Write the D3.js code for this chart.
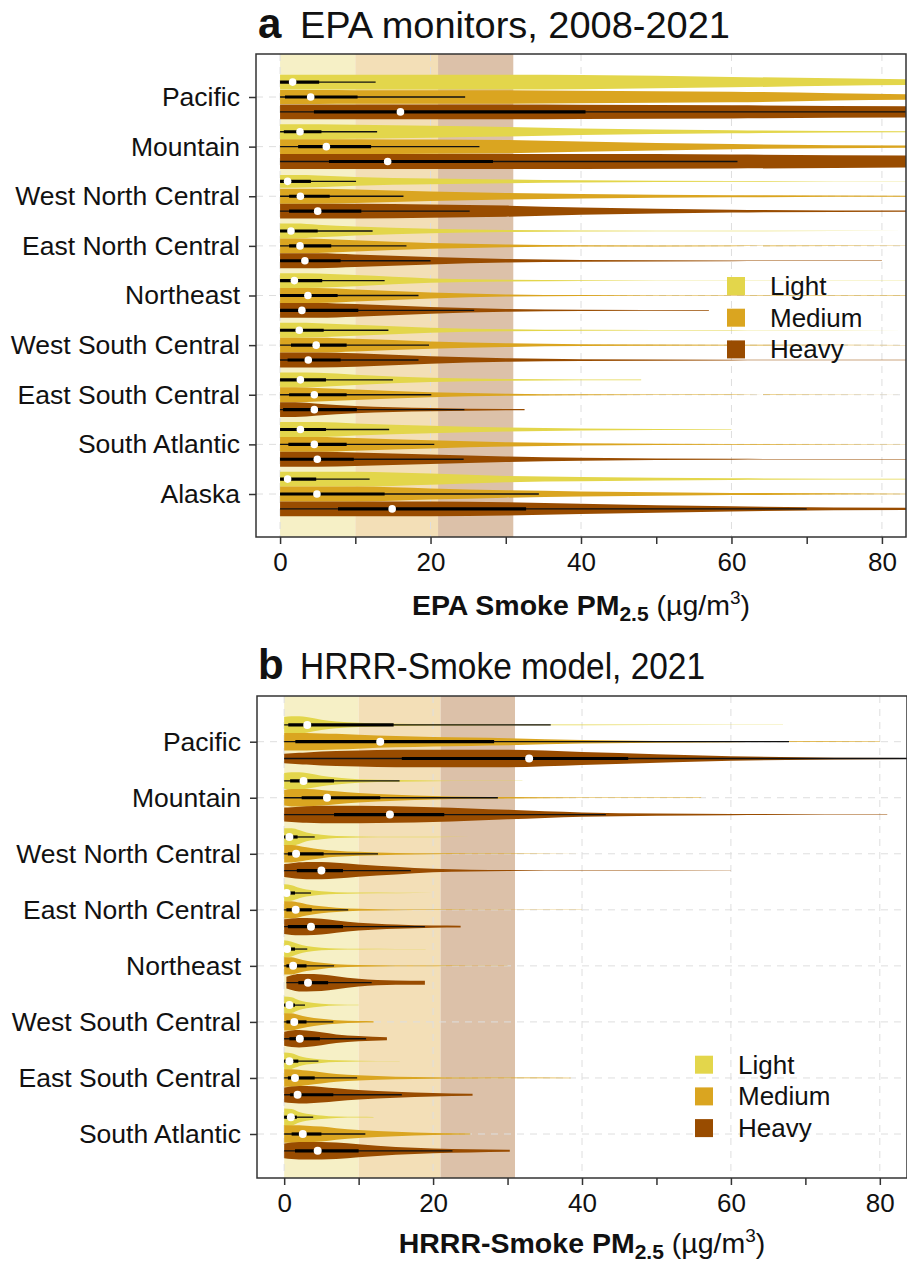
<!DOCTYPE html>
<html>
<head>
<meta charset="utf-8">
<script src="https://cdn.jsdelivr.net/npm/d3@7"></script>
<style>
  body { margin: 0; background: #fff; }
  svg { display: block; font-family: "Liberation Sans", Arial, Helvetica, sans-serif; }
</style>
</head>
<body>
<div id="chart"></div>
<script>
// ---- data ----
const regionsA = ["Pacific", "Mountain", "West North Central", "East North Central", "Northeast",
    "West South Central", "East South Central", "South Atlantic", "Alaska"];
const regionsB = regionsA.slice(0, 8);
const levels = ["Light", "Medium", "Heavy"];
const levelColors = ["#e3d64b", "#daa520", "#994c00"];

// smoke-day thresholds shown as background bands (µg/m3)
const bandEdges = [0, 10, 21, 31];
const bandColors = ["#f6f0c6", "#f3dfb7", "#dcc1a9"];

// panel a: violin half-width (relative) at these concentrations
const epaGrid = [0, 2, 5, 10, 20, 30, 40, 60, 85];
const epaShape = [
    [[1, 1, 1, 1, 1, 1, 0.95, 0.7, 0.4], [0.93, 0.93, 0.93, 0.92, 0.92, 0.9, 0.85, 0.72, 0.38], [1, 1, 1, 1, 1, 1, 0.97, 0.9, 0.75]],
    [[1, 1, 1, 0.95, 0.8, 0.65, 0.45, 0.2, 0.08], [1, 1, 1, 1, 0.95, 0.9, 0.7, 0.35, 0.14], [1, 1, 1, 1, 1, 1, 1, 0.95, 0.8]],
    [[0.85, 0.85, 0.8, 0.6, 0.4, 0.25, 0.15, 0.06, 0.02], [1, 1, 1, 0.9, 0.65, 0.45, 0.32, 0.15, 0.07], [1, 1, 1, 1, 0.9, 0.75, 0.5, 0.2, 0.07]],
    [[1, 1, 0.85, 0.6, 0.3, 0.15, 0.08, 0.03, 0.01], [1, 1, 0.95, 0.75, 0.4, 0.2, 0.1, 0.04, 0.02], [1, 1, 1, 0.85, 0.5, 0.25, 0.12, 0.05, 0.02]],
    [[1, 1, 0.95, 0.75, 0.3, 0.12, 0.06, 0.03, 0.01], [1, 1, 1, 0.8, 0.4, 0.15, 0.07, 0.03, 0.02], [1, 1, 1, 0.85, 0.45, 0.2, 0.08, 0.03, 0.02]],
    [[1, 1, 0.95, 0.75, 0.35, 0.15, 0.06, 0.02, 0.01], [1, 1, 1, 0.85, 0.5, 0.25, 0.12, 0.05, 0.02], [1, 1, 1, 0.9, 0.5, 0.25, 0.12, 0.05, 0.02]],
    [[1, 1, 0.95, 0.7, 0.3, 0.12, 0.05, 0.02, 0.01], [1, 1, 0.9, 0.7, 0.35, 0.15, 0.06, 0.02, 0.01], [1, 1, 0.8, 0.5, 0.22, 0.08, 0.04, 0.02, 0.01]],
    [[1, 1, 1, 0.8, 0.5, 0.28, 0.15, 0.04, 0.01], [1, 1, 1, 0.85, 0.55, 0.3, 0.15, 0.05, 0.02], [1, 1, 1, 0.9, 0.65, 0.38, 0.2, 0.06, 0.02]],
    [[1, 1, 1, 1, 0.75, 0.42, 0.3, 0.12, 0.04], [1, 1, 1, 1, 0.75, 0.5, 0.35, 0.15, 0.05], [1, 1, 1, 1, 1, 0.9, 0.7, 0.35, 0.15]]
];
// data range [min, max] per violin
const epaRange = [
    [[0, 100], [0, 100], [0, 100]],
    [[0, 100], [0, 100], [0, 100]],
    [[0, 100], [0, 100], [0, 100]],
    [[0, 100], [0, 100], [0, 80]],
    [[0, 100], [0, 100], [0, 57]],
    [[0, 100], [0, 100], [0, 100]],
    [[0, 48], [0, 100], [0, 32.5]],
    [[0, 60], [0, 100], [0, 100]],
    [[0, 100], [0, 100], [0, 100]]
];
// box stats: [whisker low, q1, median, q3, whisker high]
const epaBox = [
    [[0, 0, 1.67, 5.2, 12.7], [0, 0.65, 4.07, 10.3, 24.6], [0, 4.5, 16.0, 40.6, 100]],
    [[0, 0.5, 2.65, 5.5, 12.9], [0, 2.4, 6.15, 12.1, 26.5], [0, 6.5, 14.3, 28.3, 60.8]],
    [[0, 0, 1.0, 4.1, 10.1], [0, 1.2, 2.7, 6.6, 16.4], [0, 1.2, 5.0, 10.8, 25.2]],
    [[0, 0, 1.45, 5.0, 12.3], [0, 1.2, 2.65, 6.8, 16.8], [0, 0, 3.3, 8.05, 20.0]],
    [[0, 0, 1.9, 5.6, 13.9], [0, 0, 3.7, 7.65, 18.4], [0, 0, 2.9, 10.4, 25.8]],
    [[0, 0, 2.55, 5.8, 14.4], [0, 1.45, 4.8, 8.85, 19.8], [0, 1.0, 3.75, 8.05, 18.4]],
    [[0, 0, 2.7, 6.1, 15.0], [0, 1.2, 4.55, 8.85, 20.1], [0, 0.4, 4.55, 10.2, 24.5]],
    [[0, 0, 2.7, 6.1, 14.5], [0, 1.1, 4.55, 8.85, 20.5], [0, 0, 4.95, 9.8, 24.4]],
    [[0, 0, 1.0, 4.8, 11.9], [0, 0, 4.9, 13.9, 34.4], [0, 7.7, 14.9, 32.7, 70.0]]
];

// panel b
const hrrrGrid = [0, 1, 2, 3, 5, 7, 10, 15, 20, 25, 30, 40, 60, 85];
const hrrrShape = [
    [[0.9, 1, 1, 0.9, 0.6, 0.4, 0.25, 0.12, 0.07, 0.06, 0.05, 0.04, 0.02, 0],
     [1, 1, 1, 1, 0.95, 0.9, 0.8, 0.65, 0.55, 0.48, 0.4, 0.2, 0.05, 0.02],
     [0.55, 0.6, 0.65, 0.7, 0.8, 0.85, 0.92, 1, 1, 1, 1, 0.75, 0.27, 0.05]],
    [[0.9, 1, 1, 0.9, 0.6, 0.4, 0.2, 0.1, 0.05, 0.02, 0.01, 0, 0, 0],
     [0.9, 1, 1, 1, 0.9, 0.75, 0.55, 0.35, 0.2, 0.12, 0.08, 0.04, 0.01, 0],
     [0.8, 0.85, 0.9, 0.95, 1, 1, 1, 0.95, 0.85, 0.7, 0.55, 0.25, 0.07, 0.02]],
    [[1, 1, 0.8, 0.5, 0.25, 0.12, 0.06, 0.03, 0.02, 0.01, 0.01, 0.01, 0, 0],
     [1, 1, 0.9, 0.75, 0.5, 0.35, 0.22, 0.1, 0.05, 0.03, 0.02, 0.01, 0, 0],
     [0.75, 0.85, 0.95, 1, 1, 0.9, 0.7, 0.45, 0.2, 0.1, 0.06, 0.03, 0.02, 0]],
    [[1, 0.9, 0.6, 0.4, 0.2, 0.1, 0.05, 0.03, 0.01, 0, 0, 0, 0, 0],
     [1, 1, 0.85, 0.65, 0.4, 0.25, 0.12, 0.05, 0.03, 0.02, 0.02, 0.01, 0, 0],
     [0.85, 0.95, 1, 1, 0.9, 0.7, 0.45, 0.25, 0.12, 0.1, 0, 0, 0, 0]],
    [[1, 0.85, 0.55, 0.35, 0.15, 0.07, 0.04, 0.02, 0.01, 0, 0, 0, 0, 0],
     [1, 1, 0.8, 0.6, 0.35, 0.2, 0.1, 0.05, 0.03, 0.02, 0.01, 0, 0, 0],
     [0.6, 0.85, 1, 1, 0.95, 0.75, 0.45, 0.25, 0.22, 0.2, 0, 0, 0, 0]],
    [[1, 0.9, 0.55, 0.35, 0.15, 0.06, 0.03, 0.01, 0, 0, 0, 0, 0, 0],
     [1, 1, 0.8, 0.6, 0.35, 0.2, 0.1, 0.05, 0, 0, 0, 0, 0, 0],
     [0.8, 0.95, 1, 0.95, 0.75, 0.5, 0.3, 0.12, 0, 0, 0, 0, 0, 0]],
    [[1, 0.9, 0.6, 0.4, 0.2, 0.1, 0.05, 0.02, 0.01, 0, 0, 0, 0, 0],
     [1, 1, 0.95, 0.85, 0.65, 0.45, 0.3, 0.15, 0.08, 0.05, 0.04, 0.03, 0, 0],
     [0.85, 0.95, 1, 1, 0.9, 0.75, 0.55, 0.35, 0.2, 0.12, 0.1, 0, 0, 0]],
    [[1, 0.95, 0.6, 0.4, 0.2, 0.08, 0.04, 0.02, 0, 0, 0, 0, 0, 0],
     [1, 1, 1, 0.95, 0.85, 0.65, 0.45, 0.25, 0.12, 0.05, 0.03, 0, 0, 0],
     [0.85, 0.95, 1, 1, 1, 0.95, 0.75, 0.45, 0.28, 0.18, 0.12, 0.08, 0, 0]]
];
const hrrrRange = [
    [[0, 67], [0, 80], [0, 100]],
    [[0, 32], [0, 56], [0, 81]],
    [[0, 36], [0, 42], [0, 60]],
    [[0, 20], [0, 40], [0, 23.7]],
    [[0, 19], [0, 30], [0.3, 18.9]],
    [[0, 10], [0, 12], [0, 13.8]],
    [[0, 15.5], [0, 38.5], [0, 25.3]],
    [[0, 12], [0, 25], [0, 30.3]]
];
const hrrrBox = [
    [[0, 0.55, 3.1, 14.7, 35.8], [0, 1.5, 12.9, 28.2, 67.8], [0, 15.8, 32.9, 46.2, 100]],
    [[0, 0.8, 2.6, 6.7, 15.5], [0, 2.35, 5.75, 12.9, 28.7], [0, 6.7, 14.2, 21.5, 43.2]],
    [[0, 0, 0.7, 1.8, 4.1], [0, 0.5, 1.6, 5.3, 12.6], [0, 1.7, 5.0, 7.9, 17.0]],
    [[0, 0, 0.33, 1.45, 3.6], [0, 0.3, 1.55, 3.7, 8.6], [0, 0.5, 3.6, 7.9, 18.9]],
    [[0, 0, 0.4, 1.45, 3.1], [0, 0.3, 1.2, 3.0, 6.7], [0.3, 1.9, 3.2, 5.9, 11.75]],
    [[0, 0, 0.7, 1.45, 2.8], [0, 0.3, 1.35, 3.0, 6.6], [0, 0.7, 2.1, 4.8, 11.0]],
    [[0, 0, 0.7, 1.9, 4.6], [0, 0.5, 1.45, 4.1, 9.8], [0, 0.8, 1.8, 6.6, 15.8]],
    [[0, 0, 0.9, 1.7, 3.9], [0, 1.0, 2.5, 5.0, 10.9], [0, 1.45, 4.5, 10.0, 22.6]]
];

const xTicks = [0, 10, 20, 30, 40, 50, 60, 70, 80];
const xGrid = [0, 20, 40, 60, 80];

// ---- drawing ----
const svg = d3.select("#chart")
    .append("svg")
    .attr("width", 907)
    .attr("height", 1266);

function interpWidth(grid, ws, v) {
    if (v >= grid[grid.length - 1]) return ws[ws.length - 1];
    let i = d3.bisectRight(grid, v) - 1;
    if (i < 0) return ws[0];
    const t = (v - grid[i]) / (grid[i + 1] - grid[i]);
    return ws[i] + t * (ws[i + 1] - ws[i]);
}

function drawPanel(p) {
    const g = svg.append("g");
    const x = d3.scaleLinear().domain(p.xDomain).range([p.left, p.right]);
    const y = d3.scalePoint().domain(p.regions).range([p.yFirst, p.yLast]);
    const off = y.step() * 0.3;

    const clipId = "clip-" + p.letter;
    svg.append("clipPath").attr("id", clipId)
        .append("rect")
        .attr("x", p.left).attr("y", p.top)
        .attr("width", p.right - p.left).attr("height", p.bottom - p.top);

    const plot = g.append("g").attr("clip-path", `url(#${clipId})`);

    // threshold bands
    plot.selectAll(".band")
        .data(bandColors)
        .join("rect")
        .attr("x", (d, i) => x(bandEdges[i]))
        .attr("width", (d, i) => x(bandEdges[i + 1]) - x(bandEdges[i]))
        .attr("y", p.top)
        .attr("height", p.bottom - p.top)
        .attr("fill", d => d);

    // dashed grid
    plot.selectAll(".vgrid")
        .data(xGrid)
        .join("line")
        .attr("x1", d => x(d)).attr("x2", d => x(d))
        .attr("y1", p.top).attr("y2", p.bottom)
        .attr("stroke", "#dedede")
        .attr("stroke-width", 1)
        .attr("stroke-dasharray", "7,6");

    plot.selectAll(".hgrid")
        .data(p.regions)
        .join("line")
        .attr("x1", p.left).attr("x2", p.right)
        .attr("y1", d => y(d)).attr("y2", d => y(d))
        .attr("stroke", "#dedede")
        .attr("stroke-width", 1)
        .attr("stroke-dasharray", "7,6");

    // violins
    const items = [];
    p.regions.forEach((r, ri) => {
        levels.forEach((lv, li) => {
            items.push({
                region: r, li: li,
                cy: y(r) + (li - 1) * off,
                shape: p.shape[ri][li],
                range: p.range[ri][li],
                box: p.box[ri][li]
            });
        });
    });

    const area = d3.area()
        .curve(d3.curveMonotoneX)
        .x(d => x(d[0]))
        .y0(d => d[2] - d[1] * p.halfW)
        .y1(d => d[2] + d[1] * p.halfW);

    plot.selectAll(".violin")
        .data(items)
        .join("path")
        .attr("fill", d => levelColors[d.li])
        .attr("d", d => {
            const [lo, hi] = d.range;
            const pts = [[lo, interpWidth(p.grid, d.shape, lo), d.cy]];
            p.grid.forEach((gx, k) => {
                if (gx > lo && gx < hi) pts.push([gx, d.shape[k], d.cy]);
            });
            pts.push([hi, interpWidth(p.grid, d.shape, hi), d.cy]);
            return area(pts);
        });

    // box plots
    plot.selectAll(".whisker")
        .data(items)
        .join("line")
        .attr("x1", d => x(d.box[0])).attr("x2", d => x(d.box[4]))
        .attr("y1", d => d.cy).attr("y2", d => d.cy)
        .attr("stroke", "#111")
        .attr("stroke-width", 1.3);

    plot.selectAll(".iqr")
        .data(items)
        .join("line")
        .attr("x1", d => x(d.box[1])).attr("x2", d => x(d.box[3]))
        .attr("y1", d => d.cy).attr("y2", d => d.cy)
        .attr("stroke", "#000")
        .attr("stroke-width", 3.2);

    plot.selectAll(".median")
        .data(items)
        .join("circle")
        .attr("cx", d => x(d.box[2]))
        .attr("cy", d => d.cy)
        .attr("r", p.dotR)
        .attr("fill", "#fff");

    // panel border
    g.append("rect")
        .attr("x", p.left).attr("y", p.top)
        .attr("width", p.right - p.left).attr("height", p.bottom - p.top)
        .attr("fill", "none")
        .attr("stroke", "#333")
        .attr("stroke-width", 1.5);

    // axes
    const axisB = d3.axisBottom(x)
        .tickValues(xTicks)
        .tickFormat(d => d % 20 === 0 ? d : "")
        .tickSize(7)
        .tickPadding(9);

    g.append("g")
        .attr("transform", `translate(0, ${p.bottom})`)
        .call(axisB)
        .call(a => a.select(".domain").remove())
        .call(a => a.selectAll("line").attr("stroke", "#333").attr("stroke-width", 1.5))
        .call(a => a.selectAll("text")
            .attr("fill", "#111")
            .style("font-size", "26px")
            .style("font-family", "'Liberation Sans', Arial, sans-serif"));

    const axisL = d3.axisLeft(y)
        .tickSize(7)
        .tickPadding(9);

    g.append("g")
        .attr("transform", `translate(${p.left}, 0)`)
        .call(axisL)
        .call(a => a.select(".domain").remove())
        .call(a => a.selectAll("line").attr("stroke", "#333").attr("stroke-width", 1.5))
        .call(a => a.selectAll("text")
            .attr("fill", "#111")
            .style("font-size", "26.5px")
            .style("font-family", "'Liberation Sans', Arial, sans-serif"));

    // x axis title
    const xt = g.append("text")
        .attr("x", (p.left + p.right) / 2)
        .attr("y", p.xTitleY)
        .attr("text-anchor", "middle")
        .style("font-size", "28.5px")
        .attr("fill", "#111");
    xt.append("tspan").attr("font-weight", "bold").text(p.xLabel + " PM");
    xt.append("tspan").attr("font-weight", "bold").attr("dy", 6).style("font-size", "21px").text("2.5");
    xt.append("tspan").attr("dy", -6).text(" (\u00b5g/m");
    xt.append("tspan").attr("dy", -11).style("font-size", "19px").text("3");
    xt.append("tspan").attr("dy", 11).text(")");

    // panel title
    g.append("text")
        .attr("x", 258).attr("y", p.titleY)
        .attr("font-weight", "bold")
        .style("font-size", "42px")
        .attr("fill", "#111")
        .text(p.letter);
    g.append("text")
        .attr("x", 300).attr("y", p.titleY)
        .style("font-size", "36px")
        .attr("fill", "#111")
        .attr("textLength", p.titleLen)
        .attr("lengthAdjust", "spacingAndGlyphs")
        .text(p.title);

    // legend
    const leg = g.append("g")
        .attr("transform", `translate(${p.legendX}, ${p.legendY})`);
    leg.selectAll("rect")
        .data(levels)
        .join("rect")
        .attr("x", 0)
        .attr("y", (d, i) => i * p.legendStep - 9)
        .attr("width", 18).attr("height", 18)
        .attr("fill", (d, i) => levelColors[i]);
    leg.selectAll("text")
        .data(levels)
        .join("text")
        .attr("x", 43)
        .attr("y", (d, i) => i * p.legendStep + 9)
        .style("font-size", "26px")
        .attr("fill", "#111")
        .text(d => d);
}

drawPanel({
    letter: "a", title: "EPA monitors, 2008-2021", xLabel: "EPA Smoke",
    titleY: 38, titleLen: 430, xTitleY: 615,
    left: 256, right: 906, top: 54, bottom: 537,
    xDomain: [-3.2, 83.2],
    regions: regionsA, yFirst: 97, yLast: 494,
    grid: epaGrid, shape: epaShape, range: epaRange, box: epaBox,
    halfW: 7.4, dotR: 3.8,
    legendX: 727, legendY: 286, legendStep: 31.7
});

drawPanel({
    letter: "b", title: "HRRR-Smoke model, 2021", xLabel: "HRRR-Smoke",
    titleY: 679, titleLen: 405, xTitleY: 1253,
    left: 257, right: 907, top: 696, bottom: 1178,
    xDomain: [-3.65, 83.65],
    regions: regionsB, yFirst: 741.7, yLast: 1134,
    grid: hrrrGrid, shape: hrrrShape, range: hrrrRange, box: hrrrBox,
    halfW: 8.7, dotR: 4,
    legendX: 695, legendY: 1064.7, legendStep: 31.7
});
</script>
</body>
</html>
